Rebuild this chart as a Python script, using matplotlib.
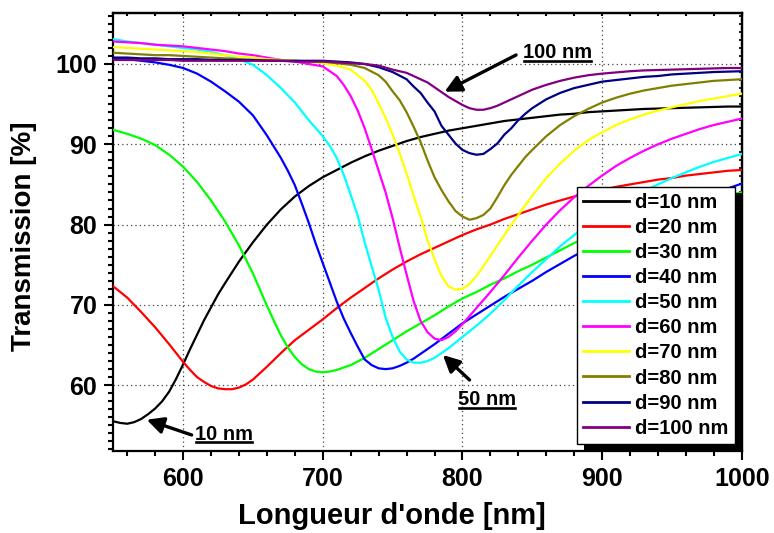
import matplotlib
matplotlib.use('Agg')
import matplotlib.pyplot as plt
from matplotlib.ticker import MultipleLocator
from matplotlib.lines import Line2D
from matplotlib.patches import Rectangle
from matplotlib.transforms import IdentityTransform

plt.rcParams['font.family'] = ['Liberation Sans', 'DejaVu Sans']
plt.rcParams['font.weight'] = 'bold'

# common 10 nm reading grid
wavelength = [550, 560, 570, 580, 590, 600, 610, 620, 630, 640,
              650, 660, 670, 680, 690, 700, 710, 720, 730, 740,
              750, 760, 770, 780, 790, 800, 810, 820, 830, 840,
              850, 860, 870, 880, 890, 900, 910, 920, 930, 940,
              950, 960, 970, 980, 990, 1000]

d10 = [55.5, 55.2, 55.8, 57.1, 59.2, 62.6, 66.3, 69.7, 72.7, 75.4,
       77.8, 80.0, 81.9, 83.5, 84.8, 85.9, 86.8, 87.7, 88.5, 89.2,
       89.8, 90.4, 90.9, 91.3, 91.7, 92.0, 92.3, 92.6, 92.9, 93.1,
       93.3, 93.5, 93.7, 93.8, 94.0, 94.1, 94.2, 94.3, 94.4, 94.45,
       94.5, 94.55, 94.6, 94.65, 94.7, 94.7]
d20 = [72.3, 70.9, 69.1, 67.2, 65.1, 62.9, 61.0, 59.9, 59.5, 59.7,
       60.7, 62.3, 64.0, 65.6, 66.9, 68.2, 69.6, 70.9, 72.1, 73.3,
       74.4, 75.4, 76.3, 77.1, 77.9, 78.7, 79.4, 80.0, 80.7, 81.3,
       81.9, 82.5, 83.0, 83.5, 83.9, 84.3, 84.7, 85.0, 85.3, 85.6,
       85.8, 86.1, 86.3, 86.5, 86.7, 86.8]
d30 = [91.8, 91.3, 90.7, 89.9, 88.7, 87.2, 85.3, 83.0, 80.4, 77.4,
       73.9, 69.9, 66.2, 63.5, 62.0, 61.6, 61.9, 62.5, 63.4, 64.5,
       65.6, 66.7, 67.7, 68.7, 69.8, 70.8, 71.6, 72.5, 73.3, 74.2,
       75.0, 75.9, 76.8, 77.7, 78.5, 79.1, 79.7, 80.3, 80.8, 81.4,
       81.9, 82.4, 82.9, 83.3, 83.7, 84.0]
d40 = [100.7, 100.6, 100.4, 100.2, 99.9, 99.5, 98.8, 97.8, 96.6, 95.3,
       93.6, 91.1, 88.3, 84.9, 80.2, 75.2, 70.4, 66.5, 63.2, 62.1,
       62.1, 62.8, 63.9, 65.1, 66.4, 67.7, 68.8, 69.9, 71.0, 72.0,
       73.0, 74.1, 75.1, 76.1, 77.0, 77.9, 78.7, 79.5, 80.3, 81.0,
       81.7, 82.4, 83.1, 83.8, 84.5, 85.1]
d50 = [103.1, 102.8, 102.6, 102.4, 102.2, 102.0, 101.8, 101.5, 101.1, 100.6,
       99.9, 98.6, 97.0, 95.2, 93.0, 91.0, 88.3, 83.7, 77.8, 71.9,
       66.0, 63.2, 62.8, 63.4, 64.6, 66.0, 67.4, 68.9, 70.6, 72.4,
       74.1, 75.7, 77.3, 78.7, 80.0, 81.2, 82.3, 83.3, 84.2, 85.0,
       85.8, 86.5, 87.2, 87.8, 88.3, 88.8]
d60 = [102.8, 102.7, 102.6, 102.4, 102.3, 102.2, 102.0, 101.8, 101.6, 101.3,
       101.1, 100.8, 100.5, 100.3, 100.0, 99.7, 98.5, 96.0, 92.0, 86.7,
       80.8, 73.8, 68.0, 65.8, 66.0, 67.6, 69.6, 71.6, 73.7, 75.9,
       78.0, 80.0, 81.8, 83.4, 84.8, 86.1, 87.3, 88.3, 89.2, 90.0,
       90.7, 91.3, 91.9, 92.4, 92.8, 93.2]
d70 = [102.1, 102.0, 101.9, 101.8, 101.7, 101.6, 101.5, 101.3, 101.1, 100.9,
       100.8, 100.6, 100.5, 100.4, 100.3, 100.1, 99.8, 99.3, 97.9, 95.1,
       91.2, 86.4, 81.0, 75.7, 72.3, 72.0, 73.6, 76.1, 78.7, 81.2,
       83.6, 85.8, 87.6, 89.2, 90.5, 91.5, 92.4, 93.1, 93.7, 94.2,
       94.6, 95.0, 95.4, 95.7, 96.0, 96.3]
d80 = [101.4, 101.3, 101.2, 101.1, 101.1, 101.0, 100.9, 100.8, 100.7, 100.6,
       100.5, 100.5, 100.4, 100.4, 100.3, 100.3, 100.1, 99.9, 99.5, 98.6,
       96.6, 94.0, 90.3, 85.9, 82.9, 81.0, 80.8, 82.0, 84.9, 87.3,
       89.3, 91.0, 92.4, 93.5, 94.4, 95.2, 95.8, 96.3, 96.7, 97.0,
       97.3, 97.5, 97.7, 97.9, 98.0, 98.1]
d90 = [100.8, 100.8, 100.7, 100.7, 100.6, 100.6, 100.6, 100.5, 100.5, 100.5,
       100.5, 100.4, 100.4, 100.4, 100.4, 100.4, 100.3, 100.2, 100.0, 99.6,
       99.0, 98.1, 96.4, 94.1, 91.2, 89.3, 88.7, 89.4, 91.2, 93.0,
       94.5, 95.6, 96.4, 97.0, 97.4, 97.8, 98.0, 98.2, 98.4, 98.5,
       98.7, 98.8, 98.9, 99.0, 99.05, 99.1]
d100 = [100.5, 100.5, 100.5, 100.5, 100.5, 100.4, 100.4, 100.4, 100.4, 100.4,
        100.4, 100.4, 100.4, 100.3, 100.3, 100.3, 100.2, 100.1, 100.0, 99.8,
        99.3, 98.9, 98.1, 97.1, 95.9, 94.9, 94.3, 94.5, 95.2, 96.0,
        96.8, 97.4, 97.9, 98.3, 98.6, 98.8, 98.95, 99.1, 99.2, 99.25,
        99.3, 99.35, 99.4, 99.45, 99.5, 99.5]

# additional readings taken in between, around each dip
d10_wl_extra = [555, 565, 575, 585, 595, 605, 615, 625]
d10_extra = [55.3, 55.4, 56.4, 58.0, 60.8, 64.5, 68.1, 71.3]
d20_wl_extra = [605, 615, 625, 635, 645, 655]
d20_extra = [61.9, 60.4, 59.6, 59.5, 60.1, 61.5]
d30_wl_extra = [655, 665, 675, 685, 695, 705, 715]
d30_extra = [71.9, 68.0, 64.7, 62.6, 61.7, 61.7, 62.2]
d40_wl_extra = [675, 685, 695, 705, 715, 725, 735, 745, 755, 765]
d40_extra = [86.7, 82.6, 77.6, 72.8, 68.3, 64.8, 62.5, 62.0, 62.4, 63.3]
d50_wl_extra = [695, 705, 715, 725, 735, 745, 755, 765, 775, 785, 795]
d50_extra = [92.0, 89.8, 86.2, 81.1, 74.8, 68.4, 64.2, 62.8, 63.0, 64.0, 65.3]
d60_wl_extra = [715, 725, 735, 745, 755, 765, 775, 785, 795, 805, 815]
d60_extra = [97.4, 94.2, 89.4, 84.0, 77.2, 70.5, 66.6, 65.6, 66.7, 68.6, 70.6]
d70_wl_extra = [735, 745, 755, 765, 775, 785, 795, 805, 815, 825]
d70_extra = [96.8, 93.3, 88.9, 83.6, 78.1, 73.6, 71.9, 72.6, 74.8, 77.4]
d80_wl_extra = [745, 755, 765, 775, 785, 795, 805, 815, 825, 835, 845]
d80_extra = [97.8, 95.5, 92.2, 88.0, 84.3, 81.7, 80.6, 81.2, 83.4, 86.2, 88.4]
d90_wl_extra = [765, 775, 785, 795, 805, 815, 825, 835, 845]
d90_extra = [97.2, 95.2, 92.3, 90.1, 88.9, 88.8, 90.1, 92.0, 93.8]
d100_wl_extra = [775, 785, 795, 805, 815, 825, 835, 845]
d100_extra = [97.7, 96.5, 95.4, 94.5, 94.3, 94.8, 95.6, 96.4]

series = [d10, d20, d30, d40, d50, d60, d70, d80, d90, d100]
extra_wl = [d10_wl_extra, d20_wl_extra, d30_wl_extra, d40_wl_extra, d50_wl_extra,
            d60_wl_extra, d70_wl_extra, d80_wl_extra, d90_wl_extra, d100_wl_extra]
extra_vals = [d10_extra, d20_extra, d30_extra, d40_extra, d50_extra,
              d60_extra, d70_extra, d80_extra, d90_extra, d100_extra]
labels = ['d=10 nm', 'd=20 nm', 'd=30 nm', 'd=40 nm', 'd=50 nm',
          'd=60 nm', 'd=70 nm', 'd=80 nm', 'd=90 nm', 'd=100 nm']
colors = ['#000000', '#FF0000', '#00FF00', '#0000FF', '#00FFFF',
          '#FF00FF', '#FFFF00', '#808000', '#000080', '#800080']

# annotations: (text, text position, arrow tail, arrow head)
notes = [
    ('10 nm', (608.4, 53.2), (606.1, 53.8), (573.9, 55.7)),
    ('50 nm', (796.5, 57.5), (805.1, 60.65), (786.0, 63.76)),
    ('100 nm', (843.2, 100.7), (838.4, 101.12), (787.2, 96.55)),
]

fig = plt.figure(figsize=(7.74, 5.33), dpi=100)
ax = fig.add_axes([0.1464, 0.1544, 0.8119, 0.8212])

for y, wx, yx, lab, c in zip(series, extra_wl, extra_vals, labels, colors):
    pts = sorted(zip(wavelength + wx, y + yx))
    xs = [p[0] for p in pts]
    ys = [p[1] for p in pts]
    ax.plot(xs, ys, color=c, lw=1.6, label=lab, zorder=3,
            solid_joinstyle='round')

ax.set_xlim(550, 1000)
ax.set_ylim(51.84, 106.35)

ax.xaxis.set_major_locator(MultipleLocator(100))
ax.xaxis.set_minor_locator(MultipleLocator(20))
ax.yaxis.set_major_locator(MultipleLocator(10))
ax.yaxis.set_minor_locator(MultipleLocator(1))

ax.grid(True, which='major', linestyle=(0, (1, 2.5)), color='#444444', lw=0.9)
ax.set_axisbelow(True)

for s in ax.spines.values():
    s.set_linewidth(1.6)

ax.tick_params(which='major', direction='out', length=6.5, width=1.5,
               labelsize=18, pad=5, top=False, right=False)
ax.tick_params(which='minor', direction='out', length=3.5, width=1.5,
               top=False, right=False)

sx = ax.secondary_xaxis('top')
sx.xaxis.set_major_locator(MultipleLocator(100))
sx.xaxis.set_minor_locator(MultipleLocator(20))
sx.tick_params(which='both', direction='in', length=2.5, width=1.5, labeltop=False)
sy = ax.secondary_yaxis('right')
sy.yaxis.set_major_locator(MultipleLocator(10))
sy.yaxis.set_minor_locator(MultipleLocator(1))
sy.tick_params(which='both', direction='in', length=2.0, width=1.2, labelright=False)
for s in list(sx.spines.values()) + list(sy.spines.values()):
    s.set_linewidth(1.6)

ax.set_xlabel("Longueur d'onde [nm]", fontsize=21, fontweight='bold')
ax.set_ylabel('Transmission [%]', fontsize=20, fontweight='bold')
ax.xaxis.set_label_coords(0.443, -0.117)
ax.yaxis.set_label_coords(-0.121, 0.49)

leg = ax.legend(loc='lower right', fontsize=14.5, frameon=True, fancybox=False,
                edgecolor='black', framealpha=1, borderpad=0.3,
                labelspacing=0.3, handlelength=2.3, handletextpad=0.3,
                borderaxespad=0.35)
leg.get_frame().set_linewidth(1.0)
leg.set_zorder(6)
for h in leg.get_lines():
    h.set_linewidth(2.0)

texts = []
for txt, tpos, tail, head in notes:
    t = ax.text(tpos[0], tpos[1], txt, fontsize=14.5, fontweight='bold',
                ha='left', va='baseline', zorder=7)
    texts.append(t)
    ax.annotate('', xy=head, xytext=tail, zorder=7,
                arrowprops=dict(arrowstyle='-|>,head_length=0.5,head_width=0.25',
                                color='black', lw=2.4, shrinkA=0, shrinkB=0,
                                mutation_scale=20))

fig.canvas.draw()
renderer = fig.canvas.get_renderer()

# legend drop shadow
bb = leg.get_frame().get_window_extent(renderer)
shadow = Rectangle((bb.x0 + 7, bb.y0 - 6), bb.width, bb.height,
                   transform=IdentityTransform(), facecolor='black',
                   edgecolor='none', clip_on=False, zorder=5.5)
ax.add_artist(shadow)

# underline annotation texts
for t in texts:
    tb = t.get_window_extent(renderer)
    yline = tb.y0 + 1.5
    fig.add_artist(Line2D([tb.x0 + 1, tb.x1 - 1], [yline, yline],
                          transform=IdentityTransform(), color='black', lw=1.9))

fig.savefig('out.png', dpi=100)
